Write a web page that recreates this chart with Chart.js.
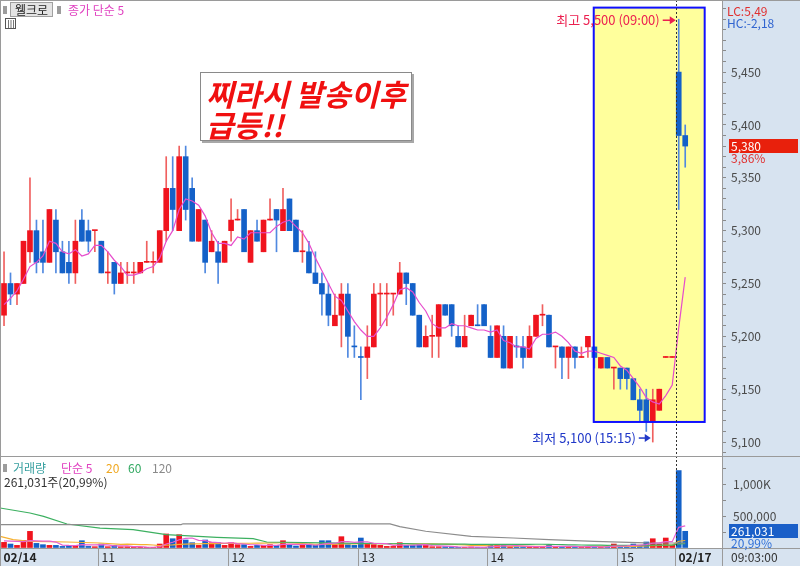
<!DOCTYPE html>
<html>
<head>
<meta charset="utf-8">
<script src="https://cdn.jsdelivr.net/npm/chart.js@4/dist/chart.umd.min.js"></script>
<style>
html, body { margin: 0; padding: 0; background: #fff; }
#wrap { width: 800px; height: 566px; }
</style>
</head>
<body>
<div id="wrap"><canvas id="chart" width="800" height="566"></canvas></div>
<script>
// 3분봉: 02/14 10:15 ~ 02/17 09:03
const opens = [5220,5250,5240,5250,5280,5300,5280,5270,5310,5280, 5270,5260,5310,5300,5300,5290,5260,5270,5250,5260,
  5260,5260,5270,5270,5270,5300,5340,5300,5370,5340, 5290,5310,5280,5280,5270,5300,5310,5320,5270,5300,
  5280,5310,5320,5300,5330,5310,5280,5280,5260,5250, 5240,5210,5220,5240,5190,5180,5180,5190,5240,5240,
  5240,5240,5260,5250,5220,5190,5200,5200,5230,5230, 5200,5190,5210,5210,5230,5200,5180,5200,5170,5190,
  5190,5180,5200,5220,5220,5190,5190,5180,5190,5180, 5190,5190,5170,5180,5170,5170,5170,5160,5140,5140,
  5120,5130,5180,5180,5450,5390];
const highs = [5280,5260,5250,5290,5350,5310,5310,5320,5320,5290, 5290,5310,5320,5310,5300,5290,5280,5270,5270,5270,
  5270,5270,5290,5280,5300,5370,5370,5380,5380,5350, 5320,5310,5300,5290,5290,5330,5320,5320,5300,5310,
  5310,5330,5320,5340,5330,5310,5300,5290,5280,5260, 5250,5240,5250,5250,5210,5190,5210,5250,5250,5250,
  5240,5270,5260,5250,5220,5210,5220,5230,5230,5230, 5210,5220,5220,5230,5230,5210,5210,5210,5200,5200,
  5200,5210,5220,5230,5220,5190,5190,5190,5190,5190, 5200,5190,5180,5180,5170,5170,5170,5160,5150,5150,
  5150,5150,5180,5180,5500,5400];
const lows = [5210,5230,5230,5250,5270,5260,5260,5270,5260,5260, 5250,5250,5290,5280,5280,5260,5250,5240,5250,5250,
  5250,5260,5270,5260,5270,5290,5300,5300,5310,5290, 5290,5260,5280,5250,5270,5290,5310,5280,5270,5290,
  5280,5310,5280,5300,5300,5280,5270,5260,5250,5220, 5210,5210,5190,5180,5180,5140,5160,5190,5210,5210,
  5220,5240,5230,5220,5190,5190,5180,5180,5220,5200, 5190,5190,5210,5210,5210,5180,5180,5170,5170,5180,
  5170,5180,5200,5210,5190,5170,5160,5160,5170,5180, 5180,5170,5170,5170,5150,5150,5150,5140,5120,5110,
  5100,5130,5180,5180,5320,5360];
const closes = [5250,5240,5250,5290,5300,5270,5270,5320,5280,5260, 5260,5290,5290,5290,5300,5260,5260,5250,5260,5260,
  5260,5270,5270,5270,5300,5340,5320,5370,5320,5290, 5320,5270,5290,5270,5290,5310,5310,5280,5300,5290,
  5310,5310,5310,5320,5300,5280,5280,5260,5250,5240, 5220,5220,5240,5200,5190,5180,5190,5240,5240,5240,
  5240,5260,5250,5220,5190,5200,5200,5230,5220,5210, 5190,5200,5220,5210,5210,5180,5210,5170,5200,5190,
  5180,5200,5220,5220,5190,5190,5180,5190,5180,5180, 5200,5180,5180,5170,5170,5160,5160,5140,5130,5120,
  5140,5150,5180,5180,5390,5380];
const volumes = [88000,62000,41000,119000,260000,72000,52000,41000,41000,25000, 41000,41000,114000,25000,20000,62000,20000,41000,20000,20000,
  10000,10000,10000,10000,62000,219000,145000,208000,125000,83000, 41000,125000,83000,83000,41000,83000,52000,52000,25000,41000,
  41000,52000,41000,114000,52000,31000,41000,52000,41000,114000, 114000,52000,177000,52000,41000,156000,62000,52000,41000,25000,
  25000,83000,41000,41000,52000,41000,20000,20000,20000,20000, 10000,10000,15000,10000,10000,52000,41000,52000,20000,20000,
  20000,20000,25000,20000,41000,20000,20000,20000,20000,15000, 25000,20000,15000,20000,62000,31000,31000,62000,41000,94000,
  145000,62000,156000,41000,1210000,261031];

// 차트 왼쪽 끝 이전 구간 때문에 그림에서 읽은 이동평균 값
const priceMa5Head = [5230, 5236, 5243, 5254];
const volMa5Head = [110000, 108000, 105000, 100000];
const volMa20Head = [[-0.6,181000],[1.4,130000],[4,104000],[9.7,94000],[14.8,78000],[18,56000]];
const volMa60Head = [[-0.6,625000],[4,547000],[6.1,494000],[9.7,375000],[14.8,312000],[19.9,286000],[25,208000],
  [32.8,166000],[38.4,145000],[40.5,94000],[54.9,72000]];
const volMa120Pts = [[-0.6,365000],[27.3,365000],[27.6,378000],[59.5,378000],[61,333000],[65,262000],[72,181000],
  [78.5,156000],[84,130000],[91,103000],[99,80000],[105,78000]];

const xLabelAt = [-0.6, 14.5, 34.5, 54.5, 74.5, 94.5, 103.5];
const xLabelText = ['02/14', '11', '12', '13', '14', '15', '02/17'];
const priceLabels = [5100, 5150, 5200, 5250, 5300, 5350, 5400, 5450];
const volLabels = [500000, 1000000];
const volLabelText = ['500,000', '1,000K'];
const dayBreak = 103.6;
const hiIdx = 104, loIdx = 100;
const box = { from: 90.9, to: 108, top: 5511, bottom: 5119 };
const prevClose = 5180;

const RED = '#f0141e', BLUE = '#1461c8', RED_W = '#f0605f', BLUE_W = '#5089e0';
const KR = "'Noto Sans CJK KR', 'Noto Sans', sans-serif";
Chart.defaults.font.family = KR;

const avg = a => a.reduce((s, v) => s + v, 0) / a.length;
const fmt = v => Math.round(v).toLocaleString('en-US');
const idx = closes.map((_, i) => i);
const isUp = closes.map((c, i) => c > opens[i] || (c === opens[i] && c >= (i ? closes[i - 1] : c)));

const priceMa5 = idx.map(i => ({ x: i, y: i < 4 ? priceMa5Head[i] : avg(closes.slice(i - 4, i + 1)) }));
const volMa5 = idx.map(i => ({ x: i, y: i < 4 ? volMa5Head[i] : avg(volumes.slice(i - 4, i + 1)) }));
const volMaN = (n, head) => head.map(([x, y]) => ({ x, y }))
  .concat(idx.filter(i => i >= n - 1).map(i => ({ x: i, y: avg(volumes.slice(i - n + 1, i + 1)) })));

function line(ctx, x1, y1, x2, y2, color, w) {
  ctx.beginPath(); ctx.moveTo(x1, y1); ctx.lineTo(x2, y2);
  ctx.strokeStyle = color; ctx.lineWidth = w || 1; ctx.stroke();
}
function text(ctx, t, x, y, color, font, align) {
  ctx.font = font || ('12px ' + KR);
  ctx.fillStyle = color; ctx.textAlign = align || 'left'; ctx.textBaseline = 'middle';
  ctx.fillText(t, x, y);
}
function arrow(ctx, x1, x2, y, color) {
  line(ctx, x1, y, x2 - 4, y, color, 1.5);
  ctx.beginPath(); ctx.moveTo(x2, y); ctx.lineTo(x2 - 6, y - 4); ctx.lineTo(x2 - 6, y + 4); ctx.closePath();
  ctx.fillStyle = color; ctx.fill();
}

const decor = {
  id: 'decor',
  beforeDraw(chart) {
    const { ctx, chartArea: a } = chart;
    ctx.save();
    ctx.fillStyle = '#fff'; ctx.fillRect(0, 0, 800, 566);
    ctx.fillStyle = '#d7e3f0';
    ctx.fillRect(a.right, 0, 800 - a.right, 566);
    ctx.fillRect(0, a.bottom, a.right, 566 - a.bottom);
    ctx.restore();
  },
  beforeDatasetsDraw(chart) {
    const { ctx, scales: { x, y } } = chart;
    ctx.save();
    ctx.fillStyle = '#ffff9c';
    const l = x.getPixelForValue(box.from), r = x.getPixelForValue(box.to);
    const t = y.getPixelForValue(box.top), b = y.getPixelForValue(box.bottom);
    ctx.fillRect(l, t, r - l, b - t);
    ctx.restore();
  },
  afterDraw(chart) {
    const { ctx, chartArea: a, scales: { x, y, yv } } = chart;
    ctx.save();
    // 강조 박스 테두리
    const l = x.getPixelForValue(box.from), r = x.getPixelForValue(box.to);
    const t = y.getPixelForValue(box.top), b = y.getPixelForValue(box.bottom);
    ctx.strokeStyle = '#1010ff'; ctx.lineWidth = 2; ctx.strokeRect(l, t, r - l, b - t);

    // 날짜 구분 점선
    const dx = Math.round(x.getPixelForValue(dayBreak)) + 0.5;
    ctx.setLineDash([2, 2]); line(ctx, dx, 0, dx, a.bottom, '#333'); ctx.setLineDash([]);

    // 패널 경계
    line(ctx, 0, yv.top + 0.5, 800, yv.top + 0.5, '#9a9a9a');
    line(ctx, 0, a.bottom + 0.5, 800, a.bottom + 0.5, '#9a9a9a');
    line(ctx, 0, 0.5, 800, 0.5, '#9a9a9a');
    line(ctx, 0.5, 0, 0.5, 566, '#9a9a9a');
    line(ctx, a.right + 0.5, 0, a.right + 0.5, 566, '#9a9a9a');

    // 시간축
    xLabelAt.forEach((v, i) => {
      const px = Math.round(x.getPixelForValue(v)) + 0.5;
      if (i > 0) line(ctx, px, a.bottom, px, 566, '#9a9a9a');
      const bold = xLabelText[i].includes('/');
      text(ctx, xLabelText[i], Math.max(px, 0) + 3, 557, '#222', (bold ? 'bold ' : '') + '12px ' + KR);
    });

    // 가격축 / 거래량축 라벨
    priceLabels.forEach(p => text(ctx, fmt(p), 731, y.getPixelForValue(p), '#4a4a4a'));
    volLabels.forEach((v, i) => text(ctx, volLabelText[i], 733, yv.getPixelForValue(v), '#4a4a4a'));

    // 최고/최저 표시
    const f13 = '13px ' + KR;
    const hx = x.getPixelForValue(hiIdx), hy = y.getPixelForValue(highs[hiIdx]);
    text(ctx, '최고 ' + fmt(highs[hiIdx]) + ' (09:00)', hx - 19, hy + 1, '#ec2050', f13, 'right');
    arrow(ctx, hx - 16, hx - 3, hy + 1, '#ec2050');
    const lx = x.getPixelForValue(loIdx), ly = y.getPixelForValue(lows[loIdx]) - 4;
    text(ctx, '최저 ' + fmt(lows[loIdx]) + ' (15:15)', lx - 17, ly, '#2038c8', f13, 'right');
    arrow(ctx, lx - 14, lx - 2, ly, '#2038c8');

    // 메모 박스
    ctx.fillStyle = '#a8a8a8'; ctx.fillRect(202, 74, 212, 69);
    ctx.fillStyle = '#fff'; ctx.fillRect(200, 72, 212, 69);
    ctx.strokeStyle = '#8a8a8a'; ctx.lineWidth = 1; ctx.strokeRect(200.5, 72.5, 211, 68);
    text(ctx, '찌라시 발송이후', 206, 95, '#f01010', 'italic bold 30px ' + KR);
    text(ctx, '급등!!', 206, 126, '#f01010', 'italic bold 30px ' + KR);

    // 상단 범례
    ctx.fillStyle = '#9c9c9c'; ctx.fillRect(3, 6, 4, 8);
    ctx.fillStyle = '#e4e4e4'; ctx.fillRect(10, 2, 43, 15);
    ctx.strokeStyle = '#a0a0a0'; ctx.strokeRect(10.5, 2.5, 42, 14);
    text(ctx, '웰크로', 15, 10, '#222');
    ctx.fillStyle = '#9c9c9c'; ctx.fillRect(57, 6, 4, 8);
    text(ctx, '종가 단순 5', 68, 10, '#e040c0');
    ctx.strokeStyle = '#555'; ctx.strokeRect(5.5, 18.5, 10, 10);
    for (let i = 0; i < 3; i++) line(ctx, 8.5 + i * 2.5, 20, 8.5 + i * 2.5, 28, '#777');

    // 거래량 범례
    ctx.fillStyle = '#9c9c9c'; ctx.fillRect(3, 464, 4, 8);
    text(ctx, '거래량', 13, 468, '#38a0a0');
    text(ctx, '단순 5', 61, 468, '#e040c0');
    text(ctx, '20', 106, 468, '#f0a820');
    text(ctx, '60', 128, 468, '#30a860');
    text(ctx, '120', 152, 468, '#8a8a8a');
    const last = volumes.length - 1;
    text(ctx, fmt(volumes[last]) + '주(20,99%)', 4, 482, '#333');

    // 오른쪽 패널
    text(ctx, 'LC:5,49', 727, 11, '#e03030');
    text(ctx, 'HC:-2,18', 727, 23, '#3064d0');
    const py = y.getPixelForValue(closes[last]);
    ctx.fillStyle = '#e8200c'; ctx.fillRect(729, Math.round(py) - 7, 69, 14);
    text(ctx, fmt(closes[last]), 731, py, '#fff');
    text(ctx, ((closes[last] / prevClose - 1) * 100).toFixed(2).replace('.', ',') + '%', 731, py + 12, '#e03030');
    const vy = yv.getPixelForValue(volumes[last]);
    ctx.fillStyle = '#1a5fc8'; ctx.fillRect(729, Math.round(vy) - 7, 69, 14);
    text(ctx, fmt(volumes[last]), 731, vy, '#fff');
    text(ctx, '20,99%', 731, vy + 12, '#3070d8');
    text(ctx, '09:03:00', 731, 557, '#333');
    ctx.restore();
  }
};

new Chart(document.getElementById('chart').getContext('2d'), {
  type: 'bar',
  data: {
    datasets: [
      {
        label: 'wick', order: 4, yAxisID: 'y', barThickness: 1, minBarLength: 1, grouped: false,
        data: idx.map(i => ({ x: i, y: [lows[i], highs[i]] })),
        backgroundColor: isUp.map(u => u ? RED_W : BLUE_W)
      },
      {
        label: 'body', order: 3, yAxisID: 'y', barThickness: 5, minBarLength: 1, grouped: false,
        data: idx.map(i => ({ x: i, y: [opens[i], closes[i]] })),
        backgroundColor: isUp.map(u => u ? RED : BLUE)
      },
      {
        type: 'line', label: '종가 단순 5', order: 1, yAxisID: 'y', data: priceMa5,
        borderColor: '#e64ccc', borderWidth: 1.2, pointRadius: 0, tension: 0
      },
      {
        label: '거래량', order: 5, yAxisID: 'yv', barThickness: 5, grouped: false,
        data: idx.map(i => ({ x: i, y: volumes[i] })),
        backgroundColor: isUp.map(u => u ? RED : BLUE)
      },
      { type: 'line', label: '120', order: 2, yAxisID: 'yv', data: volMa120Pts.map(([x, y]) => ({ x, y })),
        borderColor: '#8c8c8c', borderWidth: 1.2, pointRadius: 0 },
      { type: 'line', label: '60', order: 2, yAxisID: 'yv', data: volMaN(60, volMa60Head),
        borderColor: '#3cb060', borderWidth: 1.2, pointRadius: 0 },
      { type: 'line', label: '20', order: 2, yAxisID: 'yv', data: volMaN(20, volMa20Head),
        borderColor: '#f5b030', borderWidth: 1.2, pointRadius: 0 },
      { type: 'line', label: '단순 5', order: 1, yAxisID: 'yv', data: volMa5,
        borderColor: '#e860d0', borderWidth: 1.2, pointRadius: 0 }
    ]
  },
  options: {
    responsive: false,
    animation: false,
    devicePixelRatio: 1,
    layout: { padding: { left: 0, top: 0, right: 0, bottom: 18 }, autoPadding: false },
    plugins: { legend: { display: false }, tooltip: { enabled: false } },
    scales: {
      x: {
        type: 'linear', display: false, offset: false, min: -0.62, max: 110.67,
        grid: { display: false, offset: false }
      },
      y: {
        type: 'linear', position: 'right', stack: 'right', stackWeight: 456,
        min: 5086.8, max: 5518.2,
        afterFit: s => { s.width = 78; },
        afterBuildTicks: s => {
          const t = [];
          for (let p = 5090; p <= 5510; p += 10) t.push({ value: p });
          s.ticks = t;
        },
        grid: { drawOnChartArea: false, tickLength: 4, color: '#8a8a8a' },
        border: { color: '#9a9a9a' },
        ticks: { display: false }
      },
      yv: {
        type: 'linear', position: 'right', stack: 'right', stackWeight: 92,
        min: 0, max: 1437500,
        afterFit: s => { s.width = 78; },
        afterBuildTicks: s => {
          const t = [];
          for (let v = 0; v <= 1250000; v += 250000) t.push({ value: v });
          s.ticks = t;
        },
        grid: { drawOnChartArea: false, tickLength: 4, color: '#8a8a8a' },
        border: { color: '#9a9a9a' },
        ticks: { display: false }
      }
    }
  },
  plugins: [decor]
});
</script>
</body>
</html>
